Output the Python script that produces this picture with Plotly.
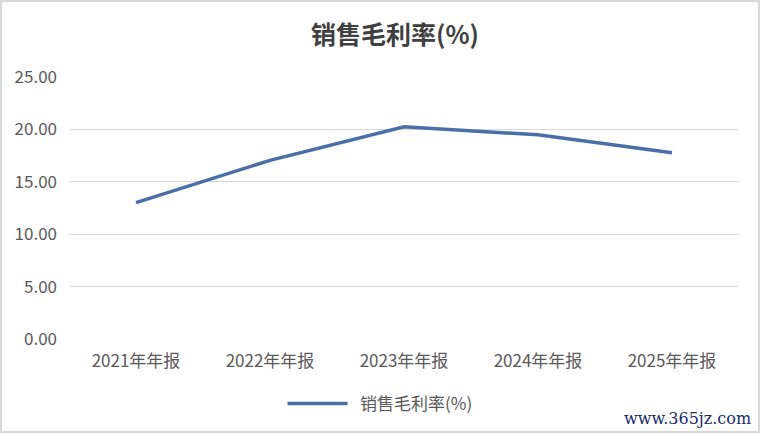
import plotly.graph_objects as go

# data
periods = ["2021年年报", "2022年年报", "2023年年报", "2024年年报", "2025年年报"]
gross_margin = [13.02, 17.05, 20.25, 19.48, 17.78]
y_ticks = [0, 5, 10, 15, 20, 25]

W, H = 762, 434
L, R, T, B = 69, 23, 77, 95
pw, ph = W - L - R, H - T - B

font = "Noto Sans CJK SC, Microsoft YaHei, sans-serif"

fig = go.Figure()

fig.add_trace(go.Scatter(
    x=periods, y=gross_margin,
    mode="lines",
    name="&nbsp;&nbsp;销售毛利率(%)",
    line=dict(color="#4a6fa8", width=3.5),
    cliponaxis=False,
))

# convert pixel positions to paper coords
def px(x):
    return (x - L) / pw

def py(y):
    return (H - B - y) / ph

fig.update_layout(
    width=W, height=H,
    margin=dict(l=L, r=R, t=T, b=B),
    paper_bgcolor="white",
    plot_bgcolor="white",
    font=dict(family=font, color="#595959", size=16),
    title=dict(
        text="<b>销售毛利率(%)</b>",
        x=395 / W, xanchor="center",
        y=1 - 35 / H, yanchor="middle",
        font=dict(size=25, color="#404040", family=font),
    ),
    xaxis=dict(
        showgrid=False, zeroline=False, showline=False,
        ticks="", tickfont=dict(size=17, color="#595959"),
        range=[-0.5, 4.5],
        ticklabelstandoff=10,
    ),
    yaxis=dict(
        range=[0, 25], tickvals=y_ticks, tickformat=".2f",
        showgrid=True, gridcolor="#d9d9d9", gridwidth=1,
        zeroline=False, showline=False, ticks="",
        tickfont=dict(size=17, color="#595959"),
        ticklabelstandoff=11,
    ),
    showlegend=True,
    legend=dict(
        orientation="h",
        x=px(380), xanchor="center",
        y=py(404), yanchor="middle",
        font=dict(size=17, color="#595959"),
        itemwidth=60,
    ),
    shapes=[dict(
        type="rect", xref="paper", yref="paper",
        x0=px(1), x1=px(759), y0=py(432), y1=py(1),
        line=dict(color="#d9d9d9", width=2),
        fillcolor="rgba(0,0,0,0)",
        layer="below",
    )],
    annotations=[dict(
        text="www.365jz.com", xref="paper", yref="paper",
        x=px(753), y=py(418), xanchor="right", yanchor="middle",
        showarrow=False,
        font=dict(size=16, color="#1a2a6c", family="DejaVu Serif"),
    )],
)

# drop the page's default 8px body margin so the figure sits at 0,0
fig.write_html("out.html", config={"displayModeBar": False},
               post_script="document.body.style.margin='0';")
